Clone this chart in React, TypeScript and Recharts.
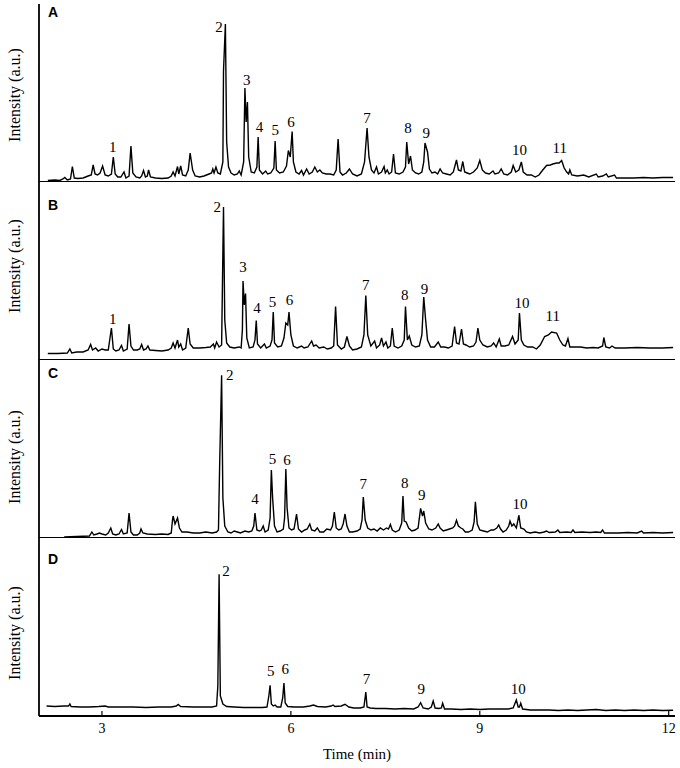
import React from "react";
import { LineChart, Line, XAxis, YAxis, ReferenceDot, ReferenceLine } from "recharts";

type Pt = [number, number];
type PeakLabel = [string, number, number];

// chromatogram traces: [time (min), intensity (a.u.)]
const traceA: Pt[] = [
  [2.14, 1.5], [2.25, 2], [2.33, 1.5], [2.38, 3], [2.41, 4.5], [2.45, 2], [2.5, 3], [2.53, 15.5], [2.56, 4],
  [2.62, 3.5], [2.7, 4], [2.78, 6], [2.83, 7], [2.86, 17], [2.89, 8], [2.93, 7], [2.97, 9], [3.01, 16],
  [3.05, 7], [3.1, 6], [3.15, 8], [3.18, 25], [3.21, 8], [3.25, 5], [3.3, 5], [3.35, 10], [3.38, 4],
  [3.43, 6], [3.46, 36], [3.49, 9], [3.54, 5], [3.6, 4], [3.63, 6], [3.66, 11.5], [3.69, 5], [3.72, 6],
  [3.74, 12], [3.77, 5], [3.85, 4], [3.95, 3.5], [4.05, 4], [4.1, 6], [4.13, 10], [4.16, 6], [4.2, 15.5],
  [4.22, 8], [4.25, 16], [4.28, 7], [4.33, 6], [4.37, 12], [4.4, 29], [4.44, 12], [4.48, 6], [4.55, 5],
  [4.62, 6], [4.7, 8], [4.74, 9], [4.76, 13], [4.78, 9], [4.81, 15], [4.84, 9], [4.88, 8], [4.92, 20],
  [4.93, 111], [4.96, 158], [4.98, 40], [5.01, 15], [5.05, 9], [5.1, 7], [5.15, 8], [5.18, 11], [5.21, 7],
  [5.25, 20], [5.27, 94], [5.29, 60], [5.31, 80], [5.33, 25], [5.37, 10], [5.42, 9], [5.46, 15], [5.48, 45],
  [5.5, 12], [5.55, 8], [5.6, 11], [5.63, 8], [5.68, 9], [5.73, 14], [5.75, 41], [5.77, 12], [5.82, 9],
  [5.88, 10], [5.93, 16], [5.96, 31.5], [5.99, 25], [6.02, 50.5], [6.04, 20], [6.08, 10], [6.13, 8],
  [6.17, 11.5], [6.2, 7], [6.25, 13], [6.29, 8], [6.34, 10], [6.38, 15], [6.42, 10], [6.46, 12], [6.5, 9],
  [6.56, 8], [6.62, 8], [6.68, 7], [6.72, 12], [6.75, 43], [6.78, 10], [6.82, 7], [6.88, 9], [6.93, 13],
  [6.98, 8], [7.05, 6], [7.12, 8], [7.17, 20], [7.21, 54], [7.24, 25], [7.28, 12], [7.32, 9], [7.36, 15],
  [7.39, 8], [7.44, 10], [7.48, 15.5], [7.5, 9], [7.53, 12], [7.56, 8], [7.6, 10], [7.63, 28], [7.66, 9],
  [7.72, 8], [7.78, 10], [7.82, 15], [7.84, 40], [7.87, 18], [7.9, 26], [7.93, 12], [7.98, 9], [8.03, 8],
  [8.08, 10], [8.11, 20], [8.13, 39], [8.17, 30], [8.2, 13], [8.24, 9], [8.29, 10], [8.33, 8], [8.37, 13],
  [8.41, 9], [8.47, 8], [8.53, 7], [8.58, 10], [8.63, 22], [8.66, 12], [8.7, 11], [8.73, 20.5], [8.76, 10],
  [8.8, 9], [8.84, 8], [8.9, 10], [8.96, 14], [9.0, 21.5], [9.04, 12], [9.09, 9], [9.15, 8], [9.21, 11],
  [9.24, 8], [9.3, 9], [9.34, 13], [9.38, 8], [9.44, 7], [9.5, 10], [9.53, 16.5], [9.57, 10], [9.62, 12],
  [9.66, 20], [9.69, 10], [9.75, 7], [9.82, 7], [9.88, 5], [9.94, 7], [10.0, 12], [10.06, 16.5],
  [10.12, 17], [10.16, 18], [10.22, 19], [10.26, 19], [10.3, 21.5], [10.34, 14], [10.38, 10], [10.41, 8],
  [10.43, 12], [10.46, 7], [10.55, 6], [10.65, 7], [10.73, 5], [10.85, 8], [10.88, 5], [10.95, 6],
  [11.01, 8], [11.04, 5], [11.14, 7], [11.17, 4], [11.3, 4], [11.45, 4], [11.6, 4.5], [11.75, 4],
  [11.9, 4.5], [12.07, 4.5],
];

const traceB: Pt[] = [
  [2.14, 6.5], [2.3, 6.5], [2.45, 7], [2.49, 11], [2.52, 7], [2.6, 8], [2.7, 8], [2.78, 10], [2.82, 15.5],
  [2.85, 10], [2.9, 12], [2.94, 9], [3.0, 11], [3.05, 10], [3.1, 10], [3.15, 32], [3.18, 11], [3.22, 9],
  [3.27, 10], [3.31, 14.5], [3.34, 9], [3.4, 11], [3.43, 36], [3.46, 14], [3.5, 10], [3.56, 10], [3.6, 11],
  [3.63, 15.5], [3.66, 10], [3.7, 11], [3.73, 14], [3.76, 10], [3.85, 9.5], [3.95, 9], [4.05, 10],
  [4.1, 12], [4.13, 17], [4.16, 12], [4.2, 20], [4.22, 13], [4.25, 16], [4.28, 10], [4.33, 12], [4.37, 32],
  [4.4, 16], [4.45, 12], [4.55, 12], [4.65, 12.5], [4.72, 13], [4.77, 16], [4.79, 12], [4.82, 18],
  [4.86, 13], [4.9, 15], [4.93, 153], [4.95, 40], [4.98, 17], [5.03, 13], [5.1, 12], [5.18, 13], [5.21, 12],
  [5.23, 30], [5.24, 79], [5.26, 55], [5.28, 66.5], [5.3, 22], [5.34, 12], [5.4, 13], [5.43, 20],
  [5.45, 39.5], [5.47, 16], [5.52, 12], [5.58, 16], [5.61, 12], [5.67, 14], [5.7, 20], [5.72, 48],
  [5.74, 17], [5.79, 13], [5.85, 14], [5.89, 22], [5.92, 37], [5.95, 35], [5.97, 48], [6.0, 25], [6.04, 14],
  [6.1, 12], [6.17, 14], [6.21, 12], [6.27, 13], [6.33, 19], [6.36, 14], [6.4, 15], [6.45, 12], [6.52, 13],
  [6.58, 11], [6.64, 12], [6.68, 14], [6.71, 53.5], [6.74, 15], [6.8, 11], [6.85, 13], [6.89, 23.5],
  [6.93, 14], [6.98, 10], [7.05, 11], [7.12, 13], [7.16, 25], [7.19, 64.5], [7.22, 25], [7.27, 14],
  [7.33, 19], [7.36, 12], [7.41, 15], [7.44, 22], [7.47, 14], [7.51, 18], [7.54, 12], [7.58, 14],
  [7.61, 32], [7.64, 14], [7.7, 12], [7.76, 14], [7.8, 20], [7.82, 53.5], [7.85, 20], [7.88, 24],
  [7.92, 15], [7.98, 13], [8.04, 14], [8.08, 25], [8.11, 63], [8.14, 40], [8.17, 20], [8.22, 13],
  [8.28, 13], [8.34, 18], [8.38, 13], [8.44, 13], [8.5, 12], [8.56, 14], [8.6, 33.5], [8.63, 17],
  [8.67, 16], [8.71, 31], [8.74, 16], [8.78, 15], [8.84, 13], [8.9, 14], [8.94, 18], [8.97, 32], [9.0, 20],
  [9.05, 15], [9.12, 13], [9.18, 14], [9.22, 17], [9.26, 13], [9.31, 21], [9.34, 14], [9.4, 14], [9.46, 15],
  [9.52, 23.5], [9.56, 16], [9.61, 20], [9.63, 47], [9.66, 20], [9.7, 15], [9.76, 13], [9.84, 13],
  [9.9, 11], [9.96, 15], [10.03, 23.5], [10.09, 25], [10.14, 28], [10.22, 27], [10.27, 20], [10.32, 15],
  [10.36, 14], [10.4, 21.5], [10.43, 13], [10.5, 13], [10.6, 13], [10.7, 12], [10.8, 12.5], [10.88, 12],
  [10.95, 14], [10.97, 22.5], [11.0, 13], [11.06, 12], [11.1, 14], [11.15, 12], [11.3, 12], [11.5, 12.5],
  [11.7, 12], [11.9, 12], [12.07, 12.5],
];

const traceC: Pt[] = [
  [2.4, 1], [2.6, 1.5], [2.8, 2], [2.84, 6], [2.87, 3], [2.92, 4], [2.96, 5], [3.0, 4], [3.06, 3], [3.1, 5],
  [3.14, 10], [3.17, 4], [3.22, 3], [3.27, 4], [3.31, 8.5], [3.34, 4], [3.4, 5], [3.43, 25], [3.46, 6],
  [3.5, 3], [3.56, 3], [3.6, 5], [3.62, 9], [3.65, 5], [3.72, 4], [3.85, 3.5], [3.95, 4], [4.05, 3.5],
  [4.1, 5], [4.12, 18], [4.13, 22], [4.16, 14], [4.2, 20], [4.23, 10], [4.27, 6], [4.35, 6], [4.45, 5],
  [4.55, 5], [4.65, 6], [4.75, 5], [4.82, 6], [4.85, 8], [4.87, 77], [4.9, 162.7], [4.92, 40], [4.95, 12],
  [5.0, 6], [5.05, 5], [5.1, 7], [5.15, 6], [5.2, 5], [5.27, 7], [5.33, 6], [5.38, 7], [5.41, 12],
  [5.43, 25], [5.46, 8], [5.5, 7], [5.53, 8], [5.56, 12], [5.59, 6], [5.64, 8], [5.67, 20], [5.69, 68],
  [5.71, 40], [5.74, 12], [5.78, 6], [5.83, 7], [5.88, 9], [5.9, 20], [5.92, 69], [5.94, 30], [5.97, 10],
  [6.01, 8], [6.05, 9], [6.09, 24], [6.12, 9], [6.17, 6], [6.22, 8], [6.26, 9], [6.3, 14], [6.33, 8],
  [6.38, 7], [6.42, 10], [6.46, 6], [6.52, 6], [6.57, 9], [6.63, 8], [6.66, 12], [6.69, 26], [6.72, 10],
  [6.76, 8], [6.8, 9], [6.83, 14], [6.86, 24], [6.89, 12], [6.93, 6], [6.98, 6], [7.05, 7], [7.1, 9],
  [7.13, 18], [7.15, 41], [7.18, 18], [7.22, 10], [7.27, 8], [7.32, 9], [7.37, 7], [7.42, 10], [7.47, 8],
  [7.52, 10], [7.55, 9], [7.58, 13.5], [7.61, 8], [7.66, 6], [7.72, 8], [7.76, 15], [7.78, 42], [7.8, 17],
  [7.83, 16], [7.87, 10], [7.92, 7], [7.97, 8], [8.02, 10], [8.06, 29.7], [8.09, 22], [8.11, 27],
  [8.14, 15], [8.19, 9], [8.24, 8], [8.3, 10], [8.34, 14], [8.37, 10], [8.42, 7], [8.47, 8], [8.52, 9],
  [8.57, 10], [8.6, 12], [8.63, 17.7], [8.66, 12], [8.7, 10], [8.73, 9], [8.77, 6], [8.82, 6], [8.88, 8],
  [8.91, 16], [8.93, 36.3], [8.96, 14], [9.0, 8], [9.06, 7], [9.12, 6], [9.18, 8], [9.22, 8], [9.27, 10],
  [9.3, 13], [9.33, 9], [9.37, 6], [9.42, 8], [9.46, 12], [9.48, 17], [9.51, 12], [9.54, 14], [9.58, 10],
  [9.6, 16], [9.62, 23], [9.65, 10], [9.7, 9], [9.74, 6], [9.8, 5], [9.88, 6], [9.95, 5], [10.02, 6],
  [10.06, 7], [10.1, 5.5], [10.2, 6], [10.24, 8], [10.27, 5.5], [10.38, 6], [10.45, 5.5], [10.48, 8],
  [10.51, 5.5], [10.62, 6], [10.75, 5.5], [10.85, 6], [10.92, 5.5], [10.95, 8], [10.98, 5], [11.08, 5],
  [11.2, 5], [11.35, 5.5], [11.5, 5], [11.57, 7], [11.6, 5], [11.75, 5.5], [11.9, 5], [12.07, 5.5],
];

const traceD: Pt[] = [
  [2.12, 10], [2.25, 9.5], [2.4, 10], [2.47, 10], [2.49, 12], [2.51, 9.5], [2.65, 9], [2.8, 9], [2.95, 9.5],
  [3.05, 10], [3.1, 9], [3.3, 9], [3.5, 9], [3.7, 8.5], [3.9, 9], [4.1, 9], [4.18, 10], [4.21, 11.5],
  [4.25, 9.5], [4.45, 9], [4.6, 9], [4.75, 9], [4.82, 10], [4.84, 30], [4.86, 141.7], [4.88, 20],
  [4.92, 12], [4.98, 9.5], [5.1, 9], [5.25, 8.5], [5.4, 8.5], [5.55, 8.5], [5.62, 9], [5.65, 20],
  [5.67, 30.7], [5.69, 12], [5.72, 10], [5.75, 11], [5.78, 9], [5.84, 9], [5.87, 18], [5.89, 33],
  [5.91, 13], [5.95, 9.5], [6.05, 9], [6.2, 9], [6.3, 10], [6.36, 11], [6.42, 9.5], [6.55, 9], [6.64, 10],
  [6.67, 11], [6.7, 9.5], [6.8, 10], [6.86, 11.7], [6.92, 9], [7.0, 8], [7.1, 8], [7.16, 9], [7.19, 24],
  [7.21, 9], [7.26, 8], [7.35, 7.5], [7.5, 7.5], [7.65, 7], [7.8, 7.5], [7.95, 7], [8.02, 9], [8.06, 13.3],
  [8.1, 8], [8.18, 7], [8.23, 9], [8.26, 15], [8.29, 8], [8.35, 7.5], [8.39, 8], [8.41, 12.7], [8.44, 7],
  [8.55, 7], [8.7, 6.5], [8.85, 7], [9.0, 6.5], [9.15, 7], [9.3, 7], [9.45, 7], [9.53, 8], [9.58, 16],
  [9.61, 9], [9.63, 9], [9.65, 12.7], [9.68, 7], [9.8, 6], [9.95, 6], [10.1, 6], [10.25, 5.5], [10.4, 6],
  [10.55, 5.5], [10.7, 6], [10.85, 6.5], [11.0, 5.5], [11.15, 6], [11.3, 5.5], [11.45, 6], [11.6, 5.5],
  [11.75, 6], [11.9, 5.5], [12.07, 5.7],
];

// peak numbers: [text, time at label centre, intensity at label baseline]
const peaksA: PeakLabel[] = [
  ["1", 3.17, 30], ["2", 4.86, 150], ["3", 5.3, 97], ["4", 5.5, 50], ["5", 5.75, 47], ["6", 6.0, 55],
  ["7", 7.21, 58.7], ["8", 7.86, 48.7], ["9", 8.15, 43.7], ["10", 9.63, 27], ["11", 10.27, 28.7],
];
const peaksB: PeakLabel[] = [
  ["1", 3.17, 35.7], ["2", 4.83, 148.3], ["3", 5.24, 88], ["4", 5.46, 47.3], ["5", 5.71, 53], ["6", 5.98, 54.7],
  ["7", 7.19, 70.3], ["8", 7.81, 59.7], ["9", 8.12, 66.3], ["10", 9.67, 52.3], ["11", 10.16, 39],
];
const peaksC: PeakLabel[] = [
  ["2", 5.03, 157.7], ["4", 5.43, 34.3], ["5", 5.71, 74.3], ["6", 5.94, 73],
  ["7", 7.15, 48.7], ["8", 7.81, 50.3], ["9", 8.08, 38], ["10", 9.64, 28.7],
];
const peaksD: PeakLabel[] = [
  ["2", 4.97, 140], ["5", 5.68, 40], ["6", 5.91, 42.3], ["7", 7.2, 31.7], ["9", 8.07, 21.7], ["10", 9.61, 21.7],
];

const panelLetters = ["A", "B", "C", "D"];
const timeTicks = [3, 6, 9, 12];

const SERIF = '"Liberation Serif", "Times New Roman", serif';
const SANS = '"Liberation Sans", Arial, sans-serif';

const W = 680;
const PLOT_H = 178;
const LEFT = 39;
const RIGHT = 5;
const AXIS_H = 52;
const PANEL_TOPS = [4, 182, 360, 538];
const YLABEL_CENTERS = [95, 266, 457, 633];
const LETTER_BASELINES = [17, 210, 378, 564];

function TimeTick(props: any) {
  const { x, y, payload } = props;
  return (
    <g>
      <line x1={x} x2={x} y1={y} y2={y - 5} stroke="#000" strokeWidth={1.2} />
      <text x={x} y={y + 17} textAnchor="middle" fontFamily={SERIF} fontSize={14} fill="#000">
        {payload.value}
      </text>
    </g>
  );
}

interface PanelProps {
  trace: Pt[];
  peaks: PeakLabel[];
  top: number;
  last?: boolean;
}

function Panel({ trace, peaks, top, last = false }: PanelProps) {
  const data = trace.map(([t, h]) => ({ t, h }));
  return (
    <div style={{ position: "absolute", left: 0, top }}>
      <LineChart
        width={W}
        height={PLOT_H + (last ? AXIS_H : 0)}
        data={data}
        margin={{ top: 0, right: RIGHT, bottom: 0, left: LEFT }}
      >
        <XAxis
          dataKey="t"
          type="number"
          domain={[2, 12.1]}
          allowDataOverflow
          ticks={last ? timeTicks : []}
          tick={last ? <TimeTick /> : false}
          tickLine={false}
          tickSize={0}
          tickMargin={0}
          height={last ? AXIS_H : 0}
          axisLine={false}
          label={
            last
              ? { value: "Time (min)", position: "insideBottom", offset: 9, fontFamily: SERIF, fontSize: 15, fill: "#000" }
              : undefined
          }
        />
        <YAxis type="number" domain={[0, PLOT_H]} allowDataOverflow width={0} tick={false} tickLine={false} axisLine={false} />
        <Line type="linear" dataKey="h" stroke="#000" strokeWidth={1.4} dot={false} isAnimationActive={false} />
        <ReferenceLine y={0} stroke="#000" strokeWidth={1.8} ifOverflow="visible" />
        <ReferenceLine x={2} stroke="#000" strokeWidth={1.8} ifOverflow="visible" />
        {peaks.map(([text, t, h]) => (
          <ReferenceDot
            key={text}
            x={t}
            y={h}
            r={0}
            shape={(p: any) => (
              <text x={p.cx} y={p.cy} textAnchor="middle" fontFamily={SERIF} fontSize={15} fill="#000">
                {text}
              </text>
            )}
          />
        ))}
      </LineChart>
    </div>
  );
}

export default function App() {
  const traces = [traceA, traceB, traceC, traceD];
  const peaks = [peaksA, peaksB, peaksC, peaksD];
  return (
    <div style={{ position: "absolute", left: 0, top: 0, width: W, height: 768, background: "#fff" }}>
      {traces.map((tr, i) => (
        <Panel key={i} trace={tr} peaks={peaks[i]} top={PANEL_TOPS[i]} last={i === traces.length - 1} />
      ))}
      <svg width={W} height={768} style={{ position: "absolute", left: 0, top: 0, pointerEvents: "none" }}>
        {panelLetters.map((l, i) => (
          <g key={l}>
            <text x={48} y={LETTER_BASELINES[i]} fontFamily={SANS} fontWeight="bold" fontSize={14} fill="#000">
              {l}
            </text>
            <text
              transform={`translate(14, ${YLABEL_CENTERS[i]}) rotate(-90)`}
              textAnchor="middle"
              dominantBaseline="central"
              fontFamily={SERIF}
              fontSize={16}
              fill="#000"
            >
              Intensity (a.u.)
            </text>
          </g>
        ))}
      </svg>
    </div>
  );
}
